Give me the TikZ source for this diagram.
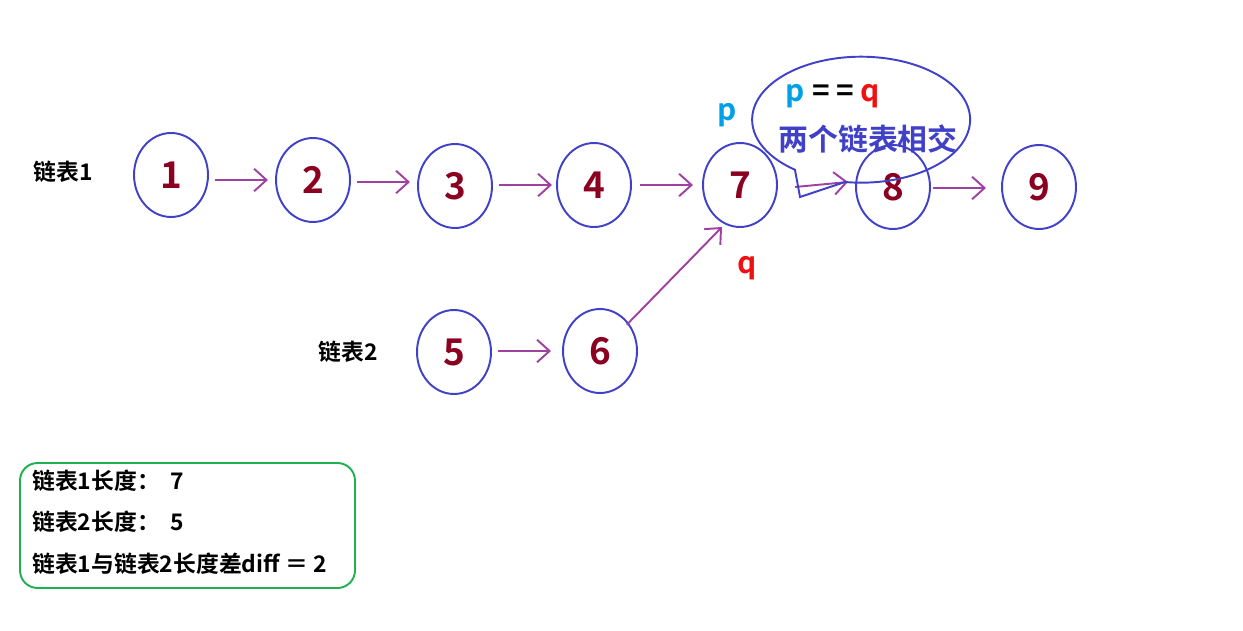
\documentclass[tikz,border=0pt]{standalone}
\usepackage{fontspec}
\setmainfont{Noto Sans CJK SC}[BoldFont={Noto Sans CJK SC Bold}]
\usetikzlibrary{shapes.geometric,arrows.meta}
\definecolor{ringblue}{HTML}{4040C8}
\definecolor{numred}{HTML}{8B0020}
\definecolor{linkpurple}{HTML}{A040A0}
\definecolor{pcyan}{HTML}{00A0E8}
\definecolor{qred}{HTML}{F01010}
\definecolor{boxgreen}{HTML}{20B050}
\tikzset{
  elem/.style={ellipse, draw=ringblue, line width=1.1pt, minimum width=1.48cm, minimum height=1.68cm,
    inner sep=0pt, text=numred, font=\bfseries\fontsize{21}{21}\selectfont},
  link/.style={draw=linkpurple, line width=1.1pt, -{Straight Barb[length=2.5mm,width=4.5mm]}},
  tag/.style={font=\bfseries\fontsize{13}{13}\selectfont}
}
\begin{document}
\begin{tikzpicture}[x=0.02cm, y=-0.02cm]
  \useasboundingbox (0,0) rectangle (1243,631);
  % first list
  \node[elem] at (171,175) (n1) {1};
  \node[elem] at (313,180) (n2) {2};
  \node[elem] at (455,186) (n3) {3};
  \node[elem] at (594,185) (n4) {4};
  \node[elem] at (740,185) (n7) {7};
  \node[elem] at (893,187) (n8) {8};
  \node[elem] at (1039,187) (n9) {9};
  % second list
  \node[elem] at (454,352) (n5) {5};
  \node[elem] at (600,351) (n6) {6};
  \draw[link] (215,180) -- (268,180);
  \draw[link] (357,182) -- (410,182);
  \draw[link] (499,185) -- (552,185);
  \draw[link] (640,185) -- (693,185);
  \draw[link] (795,187) -- (848,182);
  \draw[link] (933,188) -- (986,188);
  \draw[link] (498,351) -- (551,351);
  \draw[link] (n6.north east) ++(0,4) -- (722,227);
  \node[tag] at (63,172) (l1) {链表1};
  \node[tag] at (348,352) (l2) {链表2};
  \node[font=\bfseries\fontsize{17}{17}\selectfont, text=pcyan] at (727,115) (p) {p};
  \node[font=\bfseries\fontsize{17}{17}\selectfont, text=qred] at (747,268) (q) {q};
  % callout
  \draw[ringblue, line width=1.1pt] (795,170) -- (800,197) -- (845,182)
    arc[start angle=98.5, end angle=-233, x radius=109, y radius=63];
  \node[font=\bfseries\fontsize{17}{17}\selectfont] at (833,96) (eq)
    {\textcolor{pcyan}{p} = = \textcolor{qred}{q}};
  \node[font=\bfseries\fontsize{17}{17}\selectfont, text=ringblue] at (868,139) (cross) {两个链表相交};
  % length box
  \draw[boxgreen, line width=1.1pt, rounded corners=10] (20,463) rectangle (355,588);
  \node[tag, anchor=west] at (26,481) (len1) {链表1长度：\ \ 7};
  \node[tag, anchor=west] at (26,522) (len2) {链表2长度：\ \ 5};
  \node[tag, anchor=west] at (26,564) (diff) {链表1与链表2长度差diff ＝ 2};
\end{tikzpicture}
\end{document}
